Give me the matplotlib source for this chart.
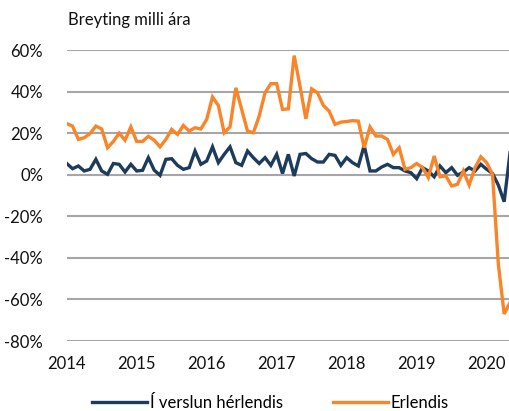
import numpy as np
import matplotlib
matplotlib.use("Agg")
import matplotlib.pyplot as plt

plt.rcParams['font.family'] = ['Lato', 'DejaVu Sans']

# monthly, Jan 2014 - May 2020, year-on-year change (%)
herlendis = [5.4, 2.9, 4.2, 1.8, 2.6, 7.4, 1.8, 0.2, 5.4, 5.0, 1.3, 5.0,
             1.8, 2.1, 8.2, 2.2, -0.3, 7.4, 7.7, 4.5, 2.6, 3.4, 11.4, 5.0,
             6.6, 13.4, 5.8, 9.8, 13.4, 5.8, 4.5, 11.4, 8.2, 5.4, 8.2, 4.5,
             9.8, 0.6, 9.8, -0.6, 9.8, 10.2, 7.7, 6.1, 6.1, 9.8, 9.3, 4.5,
             8.2, 5.8, 4.2, 14.0, 1.8, 1.8, 3.7, 5.0, 3.4, 3.4, 1.8, 1.0,
             -1.9, 3.4, 1.8, -1.0, 4.2, 1.0, 3.4, -0.3, 1.3, 3.4, 1.8, 5.0,
             2.6, 0.6, -5.0, -13.0, 10.5]
erlendis = [24.6, 23.4, 17.0, 17.8, 19.8, 23.4, 22.0, 13.0, 16.0, 20.0, 16.6, 23.0,
            16.0, 16.0, 18.5, 16.6, 13.4, 17.0, 21.8, 19.4, 23.7, 21.0, 22.6, 22.0,
            26.6, 37.4, 33.3, 20.2, 23.0, 41.8, 31.4, 21.0, 20.2, 28.2, 39.4, 43.8,
            43.8, 31.4, 31.7, 57.3, 42.6, 26.9, 41.3, 39.4, 33.3, 30.6, 24.2, 25.3,
            25.6, 26.0, 25.8, 13.0, 23.0, 18.6, 18.6, 17.0, 9.8, 13.0, 2.6, 3.4,
            5.4, 3.4, -1.4, 9.0, -1.0, -0.6, -5.4, -4.6, 1.8, -5.0, 3.4, 8.6,
            5.8, 0.2, -43.0, -67.0, -61.5]
years = ['2014', '2015', '2016', '2017', '2018', '2019', '2020']
yticks = [-80, -60, -40, -20, 0, 20, 40, 60]

navy = '#1d3b5c'
orange = '#fa8428'
grid = '#a6a6a6'

fig = plt.figure(figsize=(5.1, 4.11), dpi=100)
ax = fig.add_axes([66.7 / 510, 70 / 411, 1 - 66.7 / 510, 291 / 411])

x = np.arange(len(herlendis))
for yv in yticks:
    ax.axhline(yv, color=grid, lw=1.5, zorder=0)
ax.plot(x, herlendis, color=navy, lw=2.4, label='Í verslun hérlendis', solid_joinstyle='miter')
ax.plot(x, erlendis, color=orange, lw=2.4, label='Erlendis', solid_joinstyle='miter')

ax.set_xlim(0, len(herlendis) - 1)
ax.set_ylim(-80, 60)
ax.set_xticks(np.arange(len(years)) * 12)
ax.set_xticklabels(years)
ax.set_yticks(yticks)
ax.set_yticklabels([f'{v}%' for v in yticks])
ax.tick_params(length=0, labelsize=12, colors='#111111')
ax.tick_params(axis='x', pad=11)
ax.tick_params(axis='y', pad=17)
for s in ax.spines.values():
    s.set_visible(False)

fig.text(68 / 510, 1 - 20 / 411, 'Breyting milli ára', fontsize=12, va='center', ha='left', color='#111111')

fig.legend(loc='center', bbox_to_anchor=(0.53, 1 - 403 / 411), ncol=2, frameon=False,
           fontsize=12, handlelength=3.3, columnspacing=3.0, handletextpad=0.15)

fig.savefig('out.png', dpi=100)
